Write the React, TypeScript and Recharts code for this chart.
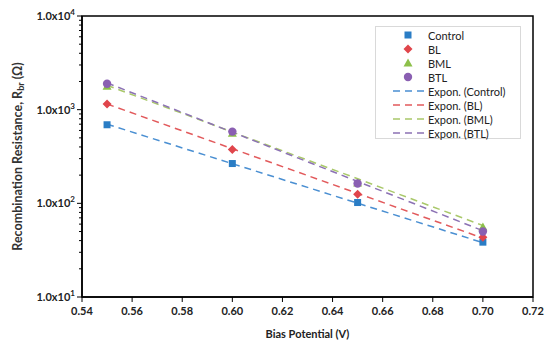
import React from 'react';
import { ComposedChart, XAxis, YAxis, Scatter, Line, ReferenceArea } from 'recharts';

const biasPotential = [0.55, 0.6, 0.65, 0.7];
const controlR = [690, 266, 102, 38.5];
const blR = [1150, 375, 125, 43.5];
const bmlR = [1780, 560, 165, 56];
const btlR = [1890, 583, 163, 50];

// exponential trendlines, read at both ends
const trendX = [0.55, 0.7];
const controlTrend = [700, 38];
const blTrend = [1150, 42.5];
const bmlTrend = [1820, 58];
const btlTrend = [1930, 51];

const xTicks = [0.54, 0.56, 0.58, 0.6, 0.62, 0.64, 0.66, 0.68, 0.7, 0.72];
const yTicks = [
  10, 20, 30, 40, 50, 60, 70, 80, 90,
  100, 200, 300, 400, 500, 600, 700, 800, 900,
  1000, 2000, 3000, 4000, 5000, 6000, 7000, 8000, 9000,
  10000,
];
const yMajor = [10, 100, 1000, 10000];

const FONT = 'Lato, "Open Sans", sans-serif';

const series = [
  { name: 'Control', values: controlR, trend: controlTrend, marker: 'square', color: '#2a7dc5', lineColor: '#4a8fd2' },
  { name: 'BL', values: blR, trend: blTrend, marker: 'diamond', color: '#e0454b', lineColor: '#e25a5c' },
  { name: 'BML', values: bmlR, trend: bmlTrend, marker: 'triangle', color: '#8dc04a', lineColor: '#a9c86a' },
  { name: 'BTL', values: btlR, trend: btlTrend, marker: 'circle', color: '#8a5fb2', lineColor: '#8c72b4' },
];

const toPoints = (xs: number[], ys: number[]) => xs.map((x, i) => ({ x, y: ys[i] }));

// marker drawn around a centre point
const Marker = ({ type, cx, cy, color }: { type: string; cx: number; cy: number; color: string }) => {
  if (type === 'square') return <rect x={cx - 3.5} y={cy - 3.5} width={7} height={7} fill={color} />;
  if (type === 'diamond')
    return <polygon points={`${cx},${cy - 4.5} ${cx + 4.5},${cy} ${cx},${cy + 4.5} ${cx - 4.5},${cy}`} fill={color} />;
  if (type === 'triangle')
    return <polygon points={`${cx},${cy - 4.5} ${cx + 4.5},${cy + 3.5} ${cx - 4.5},${cy + 3.5}`} fill={color} />;
  return <circle cx={cx} cy={cy} r={4.2} fill={color} />;
};

const YTick = (props: any) => {
  const { x, y, payload } = props;
  const v = payload.value;
  const major = yMajor.includes(v);
  const exp = Math.round(Math.log10(v));
  return (
    <g>
      <line x1={x - (major ? 5 : 3)} x2={x} y1={y} y2={y} stroke="#000" strokeWidth={1} />
      {major && (
        <text x={x - 7} y={y} dy={4} textAnchor="end" fontSize={11} fontWeight={700} fill="#222" fontFamily={FONT}>
          1.0x10<tspan dy={-5} fontSize={8}>{exp}</tspan>
        </text>
      )}
    </g>
  );
};

const YTitle = (props: any) => {
  const vb = props.viewBox || { x: 0, y: 0, width: 0, height: 0 };
  const cx = vb.x + 17;
  const cy = vb.y + vb.height / 2;
  return (
    <text
      x={cx}
      y={cy}
      transform={`rotate(-90 ${cx} ${cy})`}
      textAnchor="middle"
      dominantBaseline="central"
      fontSize={12.5}
      fontWeight={700}
      fill="#333"
      fontFamily={FONT}
    >
      Recombination Resistance, R<tspan dy={3} fontSize={9}>br</tspan>
      <tspan dy={-3}> (Ω)</tspan>
    </text>
  );
};

const LegendBox = () => {
  const rows = [
    ...series.map(s => ({ label: s.name, kind: 'marker', s })),
    ...series.map(s => ({ label: `Expon. (${s.name})`, kind: 'line', s })),
  ];
  return (
    <div
      style={{
        position: 'absolute',
        left: 375,
        top: 26,
        width: 146,
        height: 113,
        boxSizing: 'border-box',
        border: '1px solid #d9d9d9',
        background: '#fff',
        paddingTop: 1,
        fontFamily: FONT,
        fontSize: 11,
        color: '#222',
      }}
    >
      {rows.map(r => (
        <div key={r.label} style={{ height: 14, display: 'flex', alignItems: 'center' }}>
          <svg width={50} height={14} style={{ flex: 'none' }}>
            {r.kind === 'marker' ? (
              <Marker type={r.s.marker} cx={32} cy={7} color={r.s.color} />
            ) : (
              <line x1={17} x2={48} y1={7} y2={7} stroke={r.s.lineColor} strokeWidth={1.5} strokeDasharray="7 5" />
            )}
          </svg>
          <span style={{ marginLeft: 2, whiteSpace: 'nowrap' }}>{r.label}</span>
        </div>
      ))}
    </div>
  );
};

export default function App() {
  return (
    <div style={{ position: 'absolute', left: 0, top: 0, width: 550, height: 345, background: '#fff' }}>
      <ComposedChart width={550} height={345} margin={{ top: 16, right: 17, bottom: 0, left: 0 }}>
        <XAxis
          type="number"
          dataKey="x"
          domain={[0.54, 0.72]}
          ticks={xTicks}
          interval={0}
          allowDataOverflow
          tickFormatter={(v: number) => v.toFixed(2)}
          height={48}
          tickSize={5}
          tickMargin={5}
          axisLine={{ stroke: '#000', strokeWidth: 1.5 }}
          tickLine={{ stroke: '#000' }}
          tick={{ fontSize: 11, fontWeight: 700, fill: '#222', fontFamily: FONT }}
          label={{
            value: 'Bias Potential (V)',
            position: 'insideBottom',
            offset: 7,
            fontSize: 11,
            fontWeight: 700,
            fill: '#222',
            fontFamily: FONT,
          }}
        />
        <YAxis
          type="number"
          dataKey="y"
          scale="log"
          domain={[10, 10000]}
          ticks={yTicks}
          interval={0}
          allowDataOverflow
          width={82}
          tickSize={0}
          tickMargin={0}
          tickLine={false}
          axisLine={{ stroke: '#000', strokeWidth: 1.5 }}
          tick={<YTick />}
          label={<YTitle />}
        />
        <ReferenceArea x1={0.54} x2={0.72} y1={10} y2={10000} fill="none" stroke="#000" strokeWidth={1.5} ifOverflow="visible" />
        {series.map(s => (
          <Scatter
            key={s.name}
            name={s.name}
            data={toPoints(biasPotential, s.values)}
            fill={s.color}
            shape={(p: any) => <Marker type={s.marker} cx={p.cx} cy={p.cy} color={s.color} />}
            isAnimationActive={false}
          />
        ))}
        {series.map(s => (
          <Line
            key={`trend-${s.name}`}
            name={`Expon. (${s.name})`}
            data={toPoints(trendX, s.trend)}
            dataKey="y"
            stroke={s.lineColor}
            strokeWidth={1.5}
            strokeDasharray="7 5"
            dot={false}
            activeDot={false}
            isAnimationActive={false}
          />
        ))}
      </ComposedChart>
      <LegendBox />
    </div>
  );
}
